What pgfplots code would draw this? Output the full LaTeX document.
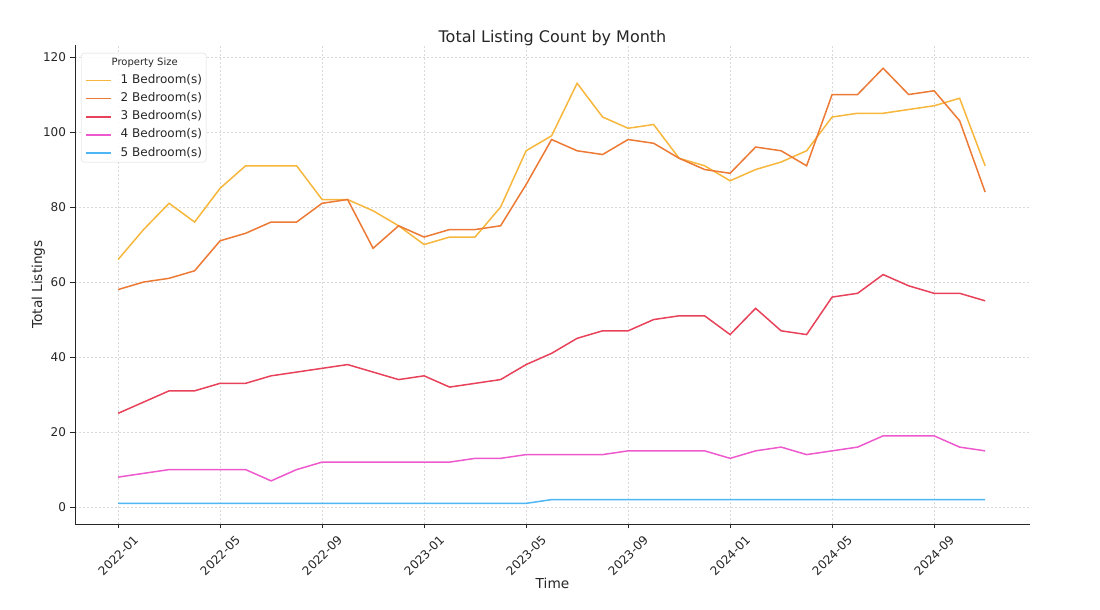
\documentclass[border=0pt]{standalone}
\usepackage{fontspec}
\setmainfont{DejaVu Sans}
\usepackage{pgfplots}
\usepackage{pgfplotstable}
\pgfplotsset{compat=1.18}
\definecolor{c1}{HTML}{F6B73C}
\definecolor{c2}{HTML}{EC7A35}
\definecolor{c3}{HTML}{E8415A}
\definecolor{c4}{HTML}{EE5ACD}
\definecolor{c5}{HTML}{4DB6F5}
\pgfplotstableread{
x b1 b2 b3 b4 b5
0 66 58 25 8 1
1 74 60 28 9 1
2 81 61 31 10 1
3 76 63 31 10 1
4 85 71 33 10 1
5 91 73 33 10 1
6 91 76 35 7 1
7 91 76 36 10 1
8 82 81 37 12 1
9 82 82 38 12 1
10 79 69 36 12 1
11 75 75 34 12 1
12 70 72 35 12 1
13 72 74 32 12 1
14 72 74 33 13 1
15 80 75 34 13 1
16 95 86 38 14 1
17 99 98 41 14 2
18 113 95 45 14 2
19 104 94 47 14 2
20 101 98 47 15 2
21 102 97 50 15 2
22 93 93 51 15 2
23 91 90 51 15 2
24 87 89 46 13 2
25 90 96 53 15 2
26 92 95 47 16 2
27 95 91 46 14 2
28 104 110 56 15 2
29 105 110 57 16 2
30 105 117 62 19 2
31 106 110 59 19 2
32 107 111 57 19 2
33 109 103 57 16 2
34 91 84 55 15 2
}\data
\begin{document}
\begin{tikzpicture}
\useasboundingbox (0,0) rectangle (1100pt,610pt);
\begin{axis}[
  at={(75pt,86pt)}, anchor=south west,
  scale only axis, width=955pt, height=479pt,
  xmin=-1.69, xmax=35.76, ymin=-4.5, ymax=123.2,
  axis x line*=bottom, axis y line*=left,
  axis line style={line width=0.9pt, black!85, -},
  xtick={0,4,...,32},
  xticklabels={2022-01,2022-05,2022-09,2023-01,2023-05,2023-09,2024-01,2024-05,2024-09},
  ytick={0,20,...,120},
  tick align=outside, major tick length=4.5pt,
  tick style={line width=0.9pt, black!85},
  /pgf/number format/assume math mode=true,
  ticklabel style={font=\fontsize{12}{14}\selectfont, text=black!85},
  xticklabel style={yshift=-27pt, rotate=45, anchor=center},
  yticklabel style={xshift=-1pt},
  grid=major,
  major grid style={line width=0.6pt, gray!30, dash pattern=on 2pt off 2pt},
  title={Total Listing Count by Month},
  title style={font=\fontsize{16}{18}\selectfont, at={(0.5,1)}, anchor=base, yshift=-4pt, text=black!85},
  xlabel={Time},
  xlabel style={font=\fontsize{13.7}{16}\selectfont, at={(0.5,0)}, anchor=base, yshift=-65pt, text=black!85},
  ylabel={Total Listings},
  ylabel style={font=\fontsize{13.7}{16}\selectfont, at={(-0.03455,0.5)}, anchor=base, text=black!85},
  legend cell align=left,
  legend style={at={(0.0063,0.9833)}, anchor=north west, draw=black!15, rounded corners=3pt,
    fill=white, fill opacity=0.85, text opacity=1,
    font=\fontsize{12}{14}\selectfont, text=black!85,
    inner xsep=4pt, inner ysep=3pt,
    nodes={inner sep=0pt, text height=9pt, text depth=3pt},
    row sep=6.2pt, column sep=9pt},
  legend image code/.code={\draw[#1, line width=1.5pt] (0pt,0pt) -- (25pt,0pt);},
  every axis plot/.append style={line width=1.5pt},
]
\addlegendimage{empty legend}
\addlegendentry{\hspace*{-9pt}\fontsize{10}{12}\selectfont Property Size}
\addplot[c1, no marks] table[x=x, y=b1] {\data};
\addlegendentry{1 Bedroom(s)}
\addplot[c2, no marks] table[x=x, y=b2] {\data};
\addlegendentry{2 Bedroom(s)}
\addplot[c3, no marks] table[x=x, y=b3] {\data};
\addlegendentry{3 Bedroom(s)}
\addplot[c4, no marks] table[x=x, y=b4] {\data};
\addlegendentry{4 Bedroom(s)}
\addplot[c5, no marks] table[x=x, y=b5] {\data};
\addlegendentry{5 Bedroom(s)}
\end{axis}
\end{tikzpicture}
\end{document}
